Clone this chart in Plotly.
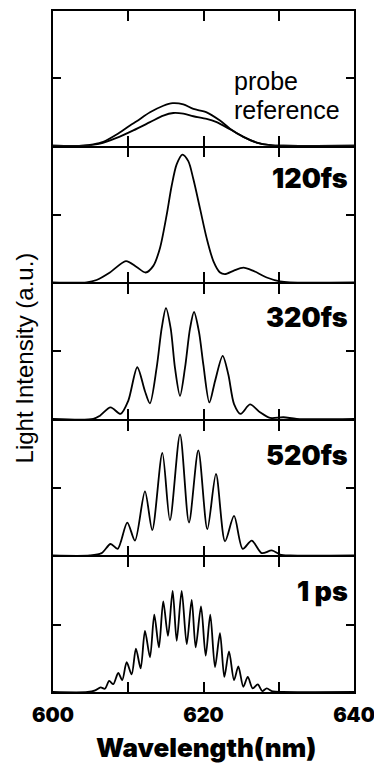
import plotly.graph_objects as go
from plotly.subplots import make_subplots

# ---- data (wavelength nm, normalized intensity) ----
wl_probe = [600, 604.02, 605.35, 606.68, 608.45, 610.23, 611.12, 612.89, 614.66, 615.90, 617.32,
            618.65, 620.42, 622.19, 623.52, 625.30, 627.07, 628.84, 630.62, 640]
int_probe = [0, 0, 0.010, 0.029, 0.083, 0.151, 0.182, 0.248, 0.297, 0.316, 0.307,
             0.273, 0.248, 0.187, 0.127, 0.066, 0.024, 0.005, 0, 0]

wl_ref = [600, 604.02, 606.24, 608.45, 610.67, 612.89, 614.66, 615.99, 617.32, 618.65,
          620.42, 621.75, 623.52, 625.30, 627.07, 628.84, 630.62, 640]
int_ref = [0, 0, 0.015, 0.058, 0.114, 0.175, 0.224, 0.243, 0.238, 0.219,
           0.200, 0.175, 0.122, 0.066, 0.024, 0.005, 0, 0]

wl_120 = [600, 604.47, 605.79, 607.56, 609.69, 611.11, 612.31, 613.33, 614.22, 615.10, 615.77,
          616.43, 617.19, 617.98, 618.65, 619.54, 620.42, 621.31, 622.20, 622.86, 623.97,
          625.30, 626.63, 628.40, 630.17, 631.50, 640]
int_120 = [0, 0, 0.017, 0.073, 0.158, 0.114, 0.073, 0.122, 0.255, 0.498, 0.717,
           0.875, 0.948, 0.899, 0.766, 0.547, 0.328, 0.158, 0.073, 0.061, 0.085,
           0.109, 0.085, 0.036, 0.007, 0, 0]

wl_320 = [600, 605.35, 606.24, 607.65, 608.98, 610.00, 611.20, 612.21, 612.88, 613.77, 614.44,
          615.01, 615.64, 616.21, 616.88, 617.54, 618.21, 618.74, 619.40, 619.98, 620.78,
          621.53, 622.55, 623.30, 624.06, 624.94, 626.18, 627.51, 628.84, 630.62, 632.39, 640]
int_320 = [0, 0, 0.024, 0.085, 0.037, 0.134, 0.383, 0.207, 0.115, 0.378, 0.671,
           0.822, 0.671, 0.378, 0.171, 0.378, 0.671, 0.793, 0.646, 0.402, 0.122,
           0.280, 0.468, 0.329, 0.110, 0.037, 0.107, 0.049, 0.007, 0.012, 0, 0]

wl_520 = [600, 604.91, 606.46, 607.65, 608.59, 609.87, 610.89, 612.22, 613.19, 614.53, 615.54,
          616.88, 618.07, 619.31, 620.51, 621.66, 622.86, 624.06, 625.21, 626.41, 627.74,
          629.07, 630.17, 631.50, 640]
int_520 = [0, 0, 0.017, 0.085, 0.049, 0.244, 0.110, 0.476, 0.188, 0.761, 0.261,
           0.898, 0.244, 0.780, 0.195, 0.605, 0.105, 0.293, 0.049, 0.110, 0.017,
           0.037, 0.007, 0, 0]

wl_1ps = [600, 604.6, 605.6, 606.33, 606.90, 607.47, 608.01, 608.67, 609.20, 609.79, 610.45,
          611.02, 611.65, 612.22, 612.89, 613.46, 614.08, 614.65, 615.28, 615.90, 616.44,
          617.10, 617.77, 618.43, 618.96, 619.67, 620.29, 620.90, 621.53, 622.19, 622.77,
          623.39, 624.06, 624.63, 625.29, 625.88, 626.54, 627.21, 627.82, 628.40, 629.2,
          630.5, 640]
int_1ps = [0, 0, 0.012, 0.034, 0.024, 0.082, 0.058, 0.141, 0.088, 0.221, 0.131,
           0.321, 0.175, 0.453, 0.258, 0.574, 0.331, 0.672, 0.416, 0.750, 0.380,
           0.750, 0.355, 0.684, 0.331, 0.635, 0.270, 0.574, 0.185, 0.436, 0.112,
           0.301, 0.088, 0.190, 0.039, 0.112, 0.027, 0.056, 0.007, 0.027, 0.004,
           0, 0]

panel_labels = ["120fs", "320fs", "520fs", "1 ps"]
x_tickvals = [600, 610, 620, 630, 640]
x_ticktext = ["600", "", "620", "", "640"]

# ---- figure (page body has an 8px margin, so the figure is sized to fit) ----
W, H = 374, 761
ML, MR, MT, MB = 45, 28, 1, 77
LW = 1.8
plot_h = H - MT - MB

fig = make_subplots(rows=5, cols=1, shared_xaxes=True, vertical_spacing=LW / plot_h)

series = [
    (1, wl_probe, int_probe),
    (1, wl_ref, int_ref),
    (2, wl_120, int_120),
    (3, wl_320, int_320),
    (4, wl_520, int_520),
    (5, wl_1ps, int_1ps),
]
for row, xs, ys in series:
    fig.add_trace(go.Scatter(x=xs, y=ys, mode="lines",
                             line=dict(color="black", width=1.8, shape="spline", smoothing=0.8),
                             showlegend=False, hoverinfo="skip"), row=row, col=1)

for r in range(1, 6):
    fig.update_xaxes(range=[600, 640], tickvals=x_tickvals,
                     ticktext=x_ticktext if r == 5 else [""] * 5,
                     showticklabels=(r == 5),
                     ticks="inside", ticklen=10, tickwidth=1.5, tickcolor="black",
                     showline=True, linecolor="black", linewidth=LW, mirror="ticks",
                     showgrid=False, zeroline=False, row=r, col=1)
    fig.update_yaxes(range=[0, 1], tickvals=[0.5], showticklabels=False,
                     ticks="inside", ticklen=8, tickwidth=1.5, tickcolor="black",
                     showline=True, linecolor="black", linewidth=LW, mirror="ticks",
                     showgrid=False, zeroline=False, row=r, col=1)

fig.update_xaxes(tickfont=dict(family="Inter", size=20, color="black", weight=900),
                 ticklabelstandoff=4, ticklabeloverflow="allow", row=5, col=1)

bold = dict(family="Inter", size=27, color="black", weight=900)
reg = dict(family="Liberation Sans, Arial, sans-serif", size=25, color="black")

ann = []
ann.append(dict(text="probe", xref="x domain", yref="y domain", x=0.596, y=0.48,
                xanchor="left", yanchor="middle", showarrow=False, font=reg))
ann.append(dict(text="reference", xref="x domain", yref="y domain", x=0.596, y=0.266,
                xanchor="left", yanchor="middle", showarrow=False, font=reg))
label_y = [0.77, 0.75, 0.74, 0.745]
for i, (lab, ly) in enumerate(zip(panel_labels, label_y)):
    n = i + 2
    ann.append(dict(text=lab, xref=f"x{n} domain", yref=f"y{n} domain", x=0.987, y=ly,
                    xanchor="right", yanchor="middle", showarrow=False, font=bold))
ann.append(dict(text="Light Intensity (a.u.)", xref="paper", yref="paper",
                x=-0.096, y=0.490, xanchor="center", yanchor="middle", textangle=-90,
                showarrow=False, font=dict(family="Liberation Sans, Arial, sans-serif",
                                           size=24, color="black")))
ann.append(dict(text="Wavelength(nm)", xref="paper", yref="paper",
                x=0.508, y=-0.081, xanchor="center", yanchor="middle", showarrow=False,
                font=dict(family="Inter", size=26, color="black", weight=900)))

fig.update_layout(width=W, height=H, margin=dict(l=ML, r=MR, t=MT, b=MB),
                  paper_bgcolor="white", plot_bgcolor="white", annotations=ann)

fig.write_html("out.html")
